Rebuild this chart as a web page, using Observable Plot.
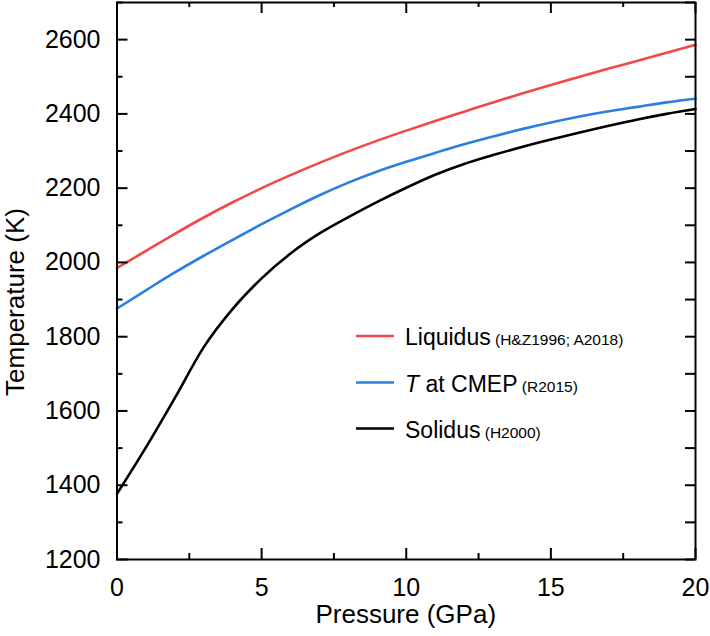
<!DOCTYPE html>
<html>
<head>
<meta charset="utf-8">
<script src="https://cdn.jsdelivr.net/npm/d3@7"></script>
<script src="https://cdn.jsdelivr.net/npm/@observablehq/plot@0.6"></script>
<style>
  html, body { margin: 0; padding: 0; background: #fff; }
  #chart { position: relative; width: 710px; height: 636px; }
</style>
</head>
<body>
<div id="chart"></div>
<script>
// Pressure (GPa)
const pressure = [0, 1, 2, 3, 4, 5, 6, 7, 8, 9, 10, 11, 12, 13, 14, 15, 16, 17, 18, 19, 20];
// Liquidus (H&Z1996; A2018), K
const liquidus = [1985, 2031, 2077, 2121, 2162, 2200, 2235, 2268, 2299, 2328, 2355, 2381, 2406, 2431, 2455, 2478, 2500, 2522, 2543, 2565, 2586];
// T at CMEP (R2015), K
const cmep = [1876, 1925, 1973, 2018, 2061, 2103, 2143, 2181, 2215, 2245, 2271, 2295, 2318, 2339, 2359, 2377, 2393, 2407, 2419, 2431, 2441];
// Solidus (H2000), K
const solidus = [1377, 1502, 1635, 1772, 1875, 1957, 2024, 2078, 2122, 2163, 2201, 2236, 2265, 2289, 2311, 2331, 2350, 2368, 2385, 2400, 2413];

const xMajor = [0, 5, 10, 15, 20];
const xMinor = [2.5, 7.5, 12.5, 17.5];
const yMajor = [1200, 1400, 1600, 1800, 2000, 2200, 2400, 2600];
const yMinor = [1300, 1500, 1700, 1900, 2100, 2300, 2500, 2700];

const seriesNames = ["Liquidus", "T at CMEP", "Solidus"];
const seriesRefs = ["(H&Z1996; A2018)", "(R2015)", "(H2000)"];
const seriesColors = ["#f24848", "#2a7fe2", "#000000"];
const seriesValues = [liquidus, cmep, solidus];

const rows = [];
seriesNames.forEach((name, i) => {
  pressure.forEach((p, j) => rows.push({series: name, P: p, T: seriesValues[i][j]}));
});

const W = 710, H = 636;
const mL = 116.5, mR = 15, mT = 2, mB = 77;
const innerW = W - mL - mR, innerH = H - mT - mB;
const font = "'Liberation Sans', Arial, Helvetica, sans-serif";

const plot = Plot.plot({
  width: W,
  height: H,
  marginLeft: mL,
  marginRight: mR,
  marginTop: mT,
  marginBottom: mB,
  style: {fontFamily: font, fontSize: "25px", color: "#000", background: "#fff"},
  x: {domain: [0, 20]},
  y: {domain: [1200, 2700]},
  color: {domain: seriesNames, range: seriesColors},
  marks: [
    Plot.line(rows, {x: "P", y: "T", z: "series", stroke: "series", strokeWidth: 2.6, curve: "monotone-x"}),
    // inward ticks: bottom
    Plot.tickX(xMajor, {x: d => d, insetTop: innerH - 11, stroke: "#000", strokeWidth: 2}),
    Plot.tickX(xMinor, {x: d => d, insetTop: innerH - 6, stroke: "#000", strokeWidth: 2}),
    // top
    Plot.tickX(xMajor, {x: d => d, insetBottom: innerH - 11, stroke: "#000", strokeWidth: 2}),
    Plot.tickX(xMinor, {x: d => d, insetBottom: innerH - 5, stroke: "#000", strokeWidth: 2}),
    // left
    Plot.tickY(yMajor, {y: d => d, insetRight: innerW - 11, stroke: "#000", strokeWidth: 2}),
    Plot.tickY(yMinor, {y: d => d, insetRight: innerW - 6, stroke: "#000", strokeWidth: 2}),
    // right
    Plot.tickY(yMajor.concat(yMinor), {y: d => d, insetLeft: innerW - 10, stroke: "#000", strokeWidth: 2}),
    Plot.axisX(xMajor, {tickSize: 0, tickPadding: 19, label: null, fontSize: 25, tickFormat: d => String(d)}),
    Plot.axisY(yMajor, {tickSize: 0, tickPadding: 16.5, label: null, fontSize: 25, tickFormat: d => String(d)}),
    Plot.frame({stroke: "#000", strokeWidth: 2})
  ]
});

document.getElementById("chart").appendChild(plot);

const svg = d3.select(plot);

// Axis titles
svg.append("text")
  .attr("x", (mL + W - mR) / 2)
  .attr("y", 623)
  .attr("text-anchor", "middle")
  .attr("font-family", font)
  .attr("font-size", 26)
  .attr("fill", "#000")
  .text("Pressure (GPa)");

svg.append("text")
  .attr("transform", "translate(24,302) rotate(-90)")
  .attr("text-anchor", "middle")
  .attr("font-family", font)
  .attr("font-size", 26)
  .attr("fill", "#000")
  .text("Temperature (K)");

// Legend
const legendY = [336, 382.5, 428.5];
const legend = svg.append("g")
  .attr("font-family", font)
  .attr("fill", "#000")
  .attr("text-anchor", "start");
seriesNames.forEach((name, i) => {
  const y = legendY[i];
  legend.append("line")
    .attr("x1", 356).attr("x2", 394)
    .attr("y1", y).attr("y2", y)
    .attr("stroke", seriesColors[i]).attr("stroke-width", 2.6);
  const t = legend.append("text")
    .attr("x", 405).attr("y", y + 9)
    .attr("text-anchor", "start")
    .attr("font-size", 23);
  if (name.startsWith("T ")) {
    t.append("tspan").attr("font-style", "italic").text("T");
    t.append("tspan").text(name.slice(1));
  } else {
    t.append("tspan").text(name);
  }
  t.append("tspan").attr("font-size", 15.5).text(" " + seriesRefs[i]);
});
</script>
</body>
</html>
